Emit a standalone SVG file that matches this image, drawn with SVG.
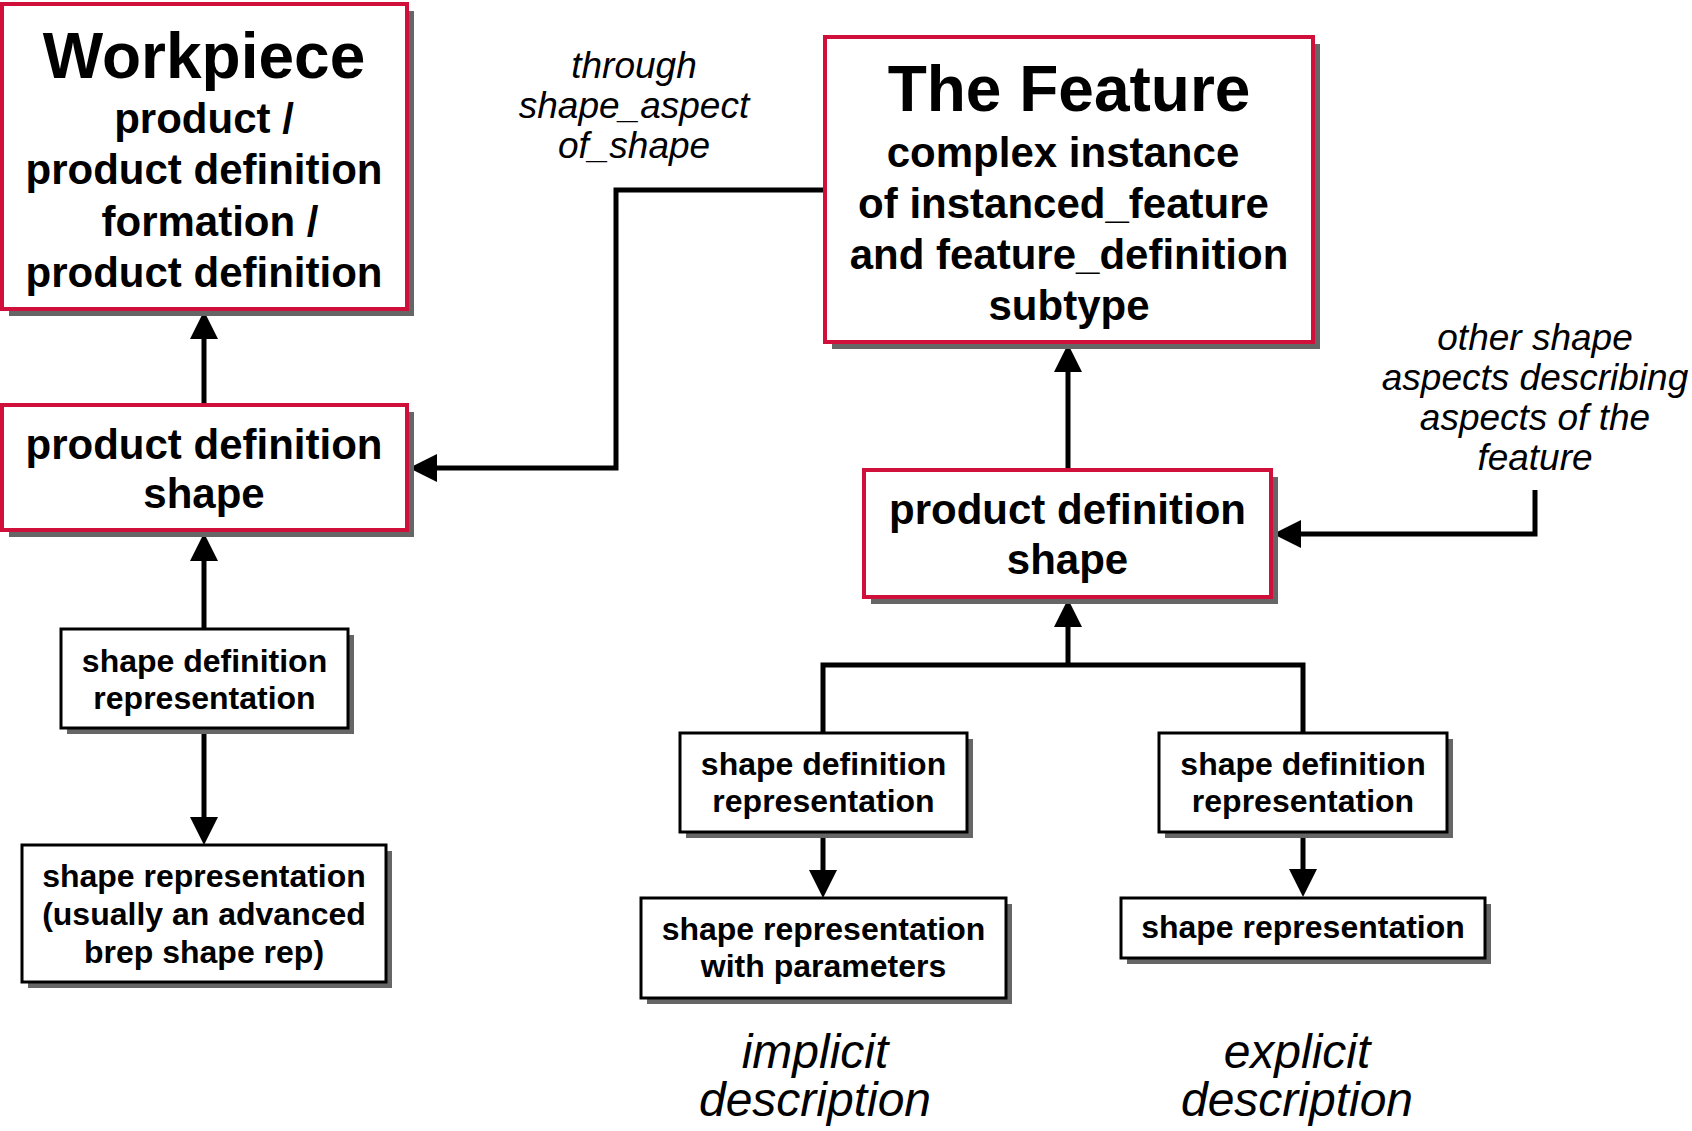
<svg xmlns="http://www.w3.org/2000/svg" width="1692" height="1131" viewBox="0 0 1692 1131">
  <style>
    .shadow { fill: #666666; }
    .red { fill: #ffffff; stroke: #d0103a; stroke-width: 4; }
    .blk { fill: #ffffff; stroke: #000000; stroke-width: 3; }
    text { font-family: "Liberation Sans", Arial, Helvetica, sans-serif; fill: #000000; text-anchor: middle; }
    .title { font-size: 64px; font-weight: bold; }
    .big { font-size: 42px; font-weight: bold; }
    .small { font-size: 32px; font-weight: bold; }
    .note { font-size: 37px; font-style: italic; }
    .desc { font-size: 48px; font-style: italic; }
    .conn { fill: none; stroke: #000000; stroke-width: 5; stroke-linejoin: miter; }
  </style>
  <defs>
    <marker id="arrow" markerUnits="userSpaceOnUse" markerWidth="28" markerHeight="28" refX="0" refY="14" orient="auto" viewBox="0 0 28 28">
      <path d="M0,0 L28,14 L0,28 Z" fill="#000000"/>
    </marker>
  </defs>

  <rect width="1692" height="1131" fill="#ffffff"/>

  <!-- connectors -->
  <g id="connectors">
    <path class="conn" d="M204,405 V339" marker-end="url(#arrow)"/>
    <path class="conn" d="M204,629 V561" marker-end="url(#arrow)"/>
    <path class="conn" d="M204,728 V817" marker-end="url(#arrow)"/>
    <path class="conn" d="M825,190 H616 V468 H437" marker-end="url(#arrow)"/>
    <path class="conn" d="M1068,470 V372" marker-end="url(#arrow)"/>
    <path class="conn" d="M1535,490 V534 H1301" marker-end="url(#arrow)"/>
    <path class="conn" d="M823,733 V665 H1303 V733"/>
    <path class="conn" d="M1068,665 V627" marker-end="url(#arrow)"/>
    <path class="conn" d="M823,832 V870" marker-end="url(#arrow)"/>
    <path class="conn" d="M1303,832 V869" marker-end="url(#arrow)"/>
  </g>

  <!-- workpiece entity -->
  <g id="workpiece">
    <rect class="shadow" x="9" y="11" width="405" height="305"/>
    <rect class="red" x="2" y="4" width="405" height="305"/>
    <text class="title" x="204" y="78">Workpiece</text>
    <text class="big" x="204" y="133">product /</text>
    <text class="big" x="204" y="184">product definition</text>
    <text class="big" x="210" y="236">formation /</text>
    <text class="big" x="204" y="287">product definition</text>
  </g>

  <g id="pds-left">
    <rect class="shadow" x="9" y="412" width="405" height="125"/>
    <rect class="red" x="2" y="405" width="405" height="125"/>
    <text class="big" x="204" y="459">product definition</text>
    <text class="big" x="204" y="508">shape</text>
  </g>

  <g id="sdr-left">
    <rect class="shadow" x="67" y="635" width="287" height="99"/>
    <rect class="blk" x="61" y="629" width="287" height="99"/>
    <text class="small" x="204.5" y="672">shape definition</text>
    <text class="small" x="204.5" y="709">representation</text>
  </g>

  <g id="sr-left">
    <rect class="shadow" x="28" y="851" width="364" height="137"/>
    <rect class="blk" x="22" y="845" width="364" height="137"/>
    <text class="small" x="204" y="887">shape representation</text>
    <text class="small" x="204" y="925">(usually an advanced</text>
    <text class="small" x="204" y="963">brep shape rep)</text>
  </g>

  <!-- feature entity -->
  <g id="feature">
    <rect class="shadow" x="832" y="44" width="488" height="305"/>
    <rect class="red" x="825" y="37" width="488" height="305"/>
    <text class="title" x="1069" y="111">The Feature</text>
    <text class="big" x="1063" y="167">complex instance</text>
    <text class="big" x="1063.5" y="218">of instanced_feature</text>
    <text class="big" x="1069" y="269">and feature_definition</text>
    <text class="big" x="1069" y="320">subtype</text>
  </g>

  <g id="pds-feature">
    <rect class="shadow" x="871" y="477" width="407" height="127"/>
    <rect class="red" x="864" y="470" width="407" height="127"/>
    <text class="big" x="1067.5" y="524">product definition</text>
    <text class="big" x="1067.5" y="574">shape</text>
  </g>

  <g id="sdr-implicit">
    <rect class="shadow" x="686" y="739" width="287" height="99"/>
    <rect class="blk" x="680" y="733" width="287" height="99"/>
    <text class="small" x="823.5" y="775">shape definition</text>
    <text class="small" x="823.5" y="812">representation</text>
  </g>

  <g id="sdr-explicit">
    <rect class="shadow" x="1165" y="739" width="288" height="99"/>
    <rect class="blk" x="1159" y="733" width="288" height="99"/>
    <text class="small" x="1303" y="775">shape definition</text>
    <text class="small" x="1303" y="812">representation</text>
  </g>

  <g id="sr-implicit">
    <rect class="shadow" x="647" y="904" width="365" height="100"/>
    <rect class="blk" x="641" y="898" width="365" height="100"/>
    <text class="small" x="823.5" y="940">shape representation</text>
    <text class="small" x="823.5" y="977">with parameters</text>
  </g>

  <g id="sr-explicit">
    <rect class="shadow" x="1127" y="904" width="364" height="60"/>
    <rect class="blk" x="1121" y="898" width="364" height="60"/>
    <text class="small" x="1303" y="938">shape representation</text>
  </g>

  <!-- annotations -->
  <g id="note-aspect-of-shape">
    <text class="note" x="634" y="78">through</text>
    <text class="note" x="634" y="118">shape_aspect</text>
    <text class="note" x="634" y="158">of_shape</text>
  </g>

  <g id="note-other-aspects">
    <text class="note" x="1535" y="350">other shape</text>
    <text class="note" x="1535" y="390">aspects describing</text>
    <text class="note" x="1535" y="430">aspects of the</text>
    <text class="note" x="1535" y="470">feature</text>
  </g>

  <g id="label-implicit">
    <text class="desc" x="815" y="1068">implicit</text>
    <text class="desc" x="815" y="1116">description</text>
  </g>

  <g id="label-explicit">
    <text class="desc" x="1297" y="1068">explicit</text>
    <text class="desc" x="1297" y="1116">description</text>
  </g>
</svg>
